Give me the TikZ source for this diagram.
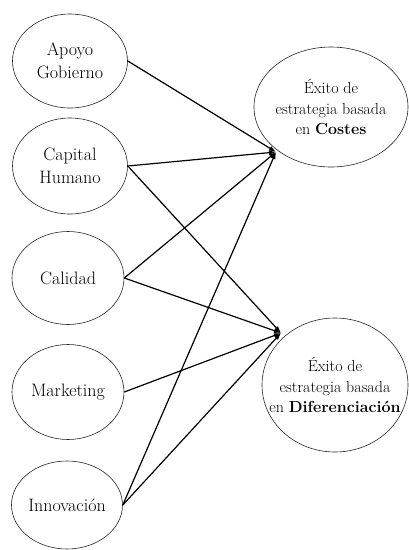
\documentclass[tikz,border=0pt]{standalone}
\usetikzlibrary{shapes.geometric,arrows.meta}
\begin{document}
\begin{tikzpicture}[x=1pt,y=-1pt,
  oval/.style={ellipse, draw=black!85, line width=0.6pt, inner sep=0pt},
  ltxt/.style={align=center, font=\fontsize{18}{22.5}\selectfont},
  rtxt/.style={align=center, font=\fontsize{16}{20.5}\selectfont},
  arr/.style={-{Latex[length=7pt,width=5pt]}, line width=1.2pt}]
\useasboundingbox (0,0) rectangle (409,550);
\node[oval, minimum width=115pt, minimum height=94pt, label={[ltxt]center:{Apoyo\\Gobierno}}] (apoyo) at (70,61) {};
\node[oval, minimum width=115pt, minimum height=96pt, label={[ltxt]center:{Capital\\Humano}}] (capital) at (70,166) {};
\node[oval, minimum width=112pt, minimum height=93pt, label={[ltxt]center:{Calidad}}] (calidad) at (68,278) {};
\node[oval, minimum width=112pt, minimum height=95pt, label={[ltxt]center:{Marketing}}] (marketing) at (68,392) {};
\node[oval, minimum width=111pt, minimum height=88pt, label={[ltxt]center:{Innovación}}] (innovacion) at (67,505) {};
\node[oval, minimum width=154pt, minimum height=120pt, label={[rtxt]center:{Éxito de\\estrategia basada\\en \textbf{Costes}}}] (costes) at (331,107) {};
\node[oval, minimum width=146pt, minimum height=134pt, label={[rtxt]center:{Éxito de\\estrategia basada\\en \textbf{Diferenciación}}}] (difer) at (335,385) {};
\coordinate (ct) at (276,152);
\coordinate (dt) at (281,333);
\draw[arr] (apoyo.east) -- (ct);
\draw[arr] (capital.east) -- (ct);
\draw[arr] (capital.east) -- (dt);
\draw[arr] (calidad.east) -- (ct);
\draw[arr] (calidad.east) -- (dt);
\draw[arr] (marketing.east) -- (dt);
\draw[arr] (innovacion.east) -- (ct);
\draw[arr] (innovacion.east) -- (dt);
\end{tikzpicture}
\end{document}
